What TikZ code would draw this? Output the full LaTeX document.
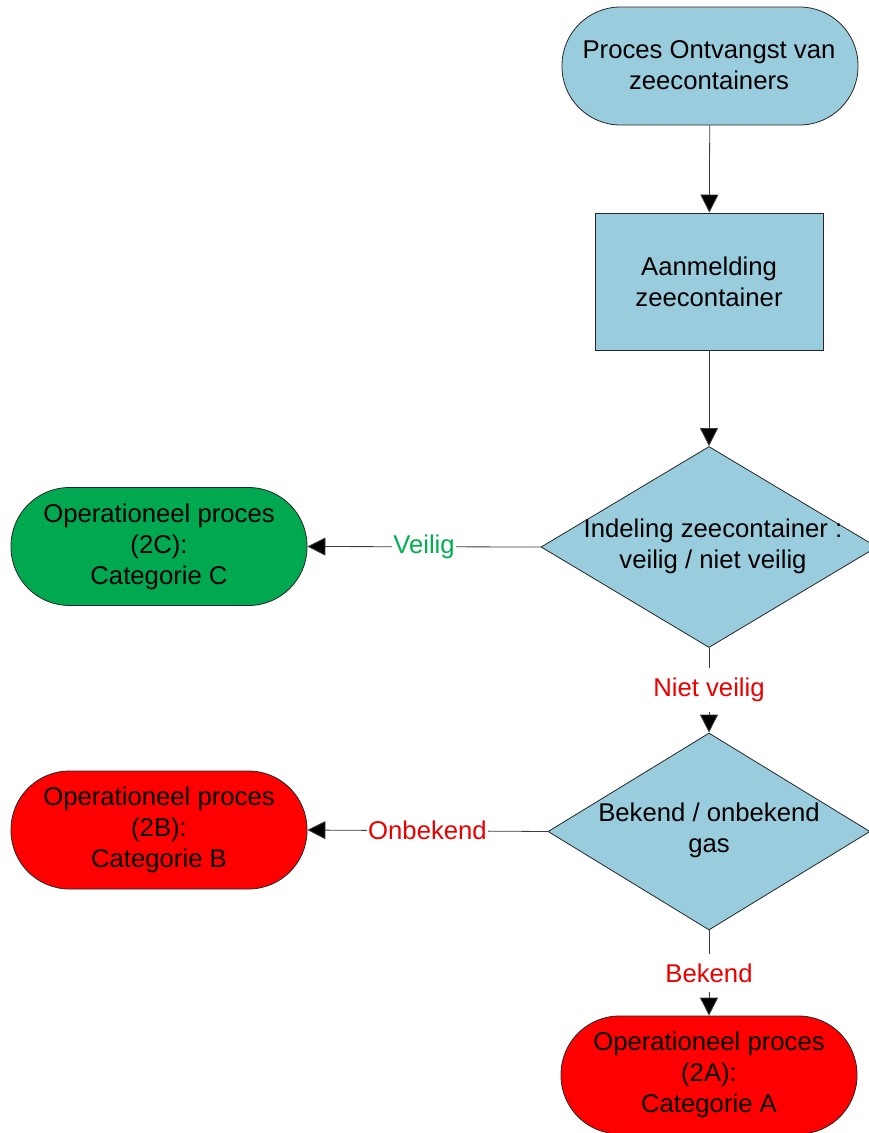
\documentclass[tikz,border=0pt]{standalone}
\usepackage{fontspec}
\setmainfont{Liberation Sans}
\usetikzlibrary{shapes.geometric,arrows.meta}
\definecolor{boxblue}{RGB}{153,205,222}
\definecolor{termgreen}{RGB}{0,168,80}
\definecolor{termred}{RGB}{255,0,0}
\definecolor{lblgreen}{RGB}{0,176,80}
\definecolor{lblred}{RGB}{235,0,0}
\definecolor{edgegray}{RGB}{60,60,60}
\tikzset{
  every node/.style={font=\fontsize{25.7}{31}\selectfont, align=center},
  terminal/.style={draw=black!85, line width=0.8pt, rectangle, rounded corners=58.5pt,
    minimum width=296pt, minimum height=118pt, inner sep=0pt},
  procbox/.style={draw=black!85, line width=0.8pt, rectangle, fill=boxblue,
    minimum width=228pt, minimum height=137pt, inner sep=0pt},
  decision/.style={draw=black!85, line width=0.8pt, diamond, fill=boxblue, inner sep=0pt},
  flow/.style={draw=edgegray, line width=0.8pt, -{Triangle[length=18pt,width=18pt,fill=black]}},
  lbl/.style={fill=white, inner xsep=1.5pt, inner ysep=10pt},
}
\begin{document}
\begin{tikzpicture}[x=1pt,y=-1pt]
\useasboundingbox (0,0) rectangle (869,1133);
\clip (0,0) rectangle (869,1133);
\node[terminal, fill=boxblue] (start) at (710,66) {};
\node at (709,65) {Proces Ontvangst van\\zeecontainers};
\node[procbox] (aanm) at (709,281.5) {Aanmelding\\zeecontainer};
\node[decision, minimum width=336pt, minimum height=201pt] (d1) at (709,547) {};
\node at (713,546.5) {Indeling zeecontainer :\\veilig  / niet veilig};
\node[decision, minimum width=322pt, minimum height=197pt] (d2) at (709,831.5) {};
\node at (709,830.5) {Bekend / onbekend\\gas};
\node[terminal, fill=termgreen] (catc) at (159,546.5) {Operationeel proces\\(2C):\\Categorie C};
\node[terminal, fill=termred] (catb) at (159,830) {Operationeel proces\\(2B):\\Categorie B};
\node[terminal, fill=termred] (cata) at (709,1075) {Operationeel proces\\(2A):\\Categorie A};
\draw[flow] (start) -- (aanm);
\draw[flow] (aanm) -- (d1.north);
\draw[flow] (d1.west) -- node[lbl, text=lblgreen] (lv) {Veilig} (catc.east);
\draw[flow] (d1.south) -- node[lbl, text=lblred] (lnv) {Niet veilig} (d2.north);
\draw[flow] (d2.west) -- node[lbl, text=lblred] (lo) {Onbekend} (catb.east);
\draw[flow] (d2.south) -- node[lbl, text=lblred] (lb) {Bekend} (cata.north);
\end{tikzpicture}
\end{document}
